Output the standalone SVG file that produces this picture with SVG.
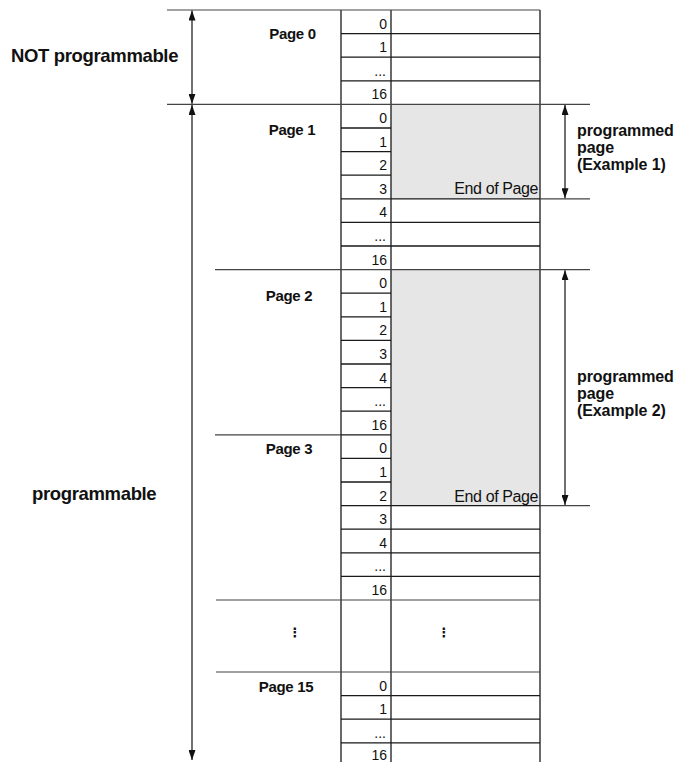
<svg xmlns="http://www.w3.org/2000/svg" width="682" height="762" viewBox="0 0 682 762">
<defs>
<style>
.t{stroke:#1a1a1a;stroke-width:1.3;fill:none}
.x{stroke:#444;stroke-width:1.2;fill:none}
.a{stroke:#111;stroke-width:1.2;fill:none}
.g{fill:#e6e6e6;stroke:none}
.n{font-family:"Liberation Sans",Arial,sans-serif;font-size:14px;fill:#111;text-anchor:end}
.p{font-family:"Liberation Sans",Arial,sans-serif;font-size:15px;font-weight:bold;fill:#111;text-anchor:middle;letter-spacing:-0.3px}
.b{font-family:"Liberation Sans",Arial,sans-serif;font-size:18.5px;font-weight:bold;fill:#111;letter-spacing:-0.35px}
.l{font-family:"Liberation Sans",Arial,sans-serif;font-size:16px;font-weight:bold;fill:#111;letter-spacing:-0.1px}
.e{font-family:"Liberation Sans",Arial,sans-serif;font-size:16px;fill:#111;text-anchor:end;letter-spacing:-0.4px}
.d{font-family:"DejaVu Sans",sans-serif;font-size:13px;font-weight:bold;fill:#111;text-anchor:middle}
</style>
<marker id="ah" viewBox="0 0 10 7" refX="10" refY="3.5" markerWidth="10" markerHeight="7" markerUnits="userSpaceOnUse" orient="auto-start-reverse">
<path d="M0,0 L10,3.5 L0,7 z" fill="#111"/>
</marker>
</defs>

<!-- shaded programmed regions -->
<g id="shade">
<rect class="g" x="391" y="104.4" width="149" height="94.4"/>
<rect class="g" x="391" y="269.6" width="149" height="236"/>
</g>

<!-- table grid -->
<g id="table">
<line class="t" x1="341" y1="10" x2="341" y2="766"/>
<line class="t" x1="391" y1="10" x2="391" y2="766"/>
<line class="t" x1="540" y1="10" x2="540" y2="766"/>
<path class="t" d="M341,33.6H391 M341,57.2H391 M341,80.8H391 M341,128H391 M341,151.6H391 M341,175.2H391 M341,293.2H391 M341,316.8H391 M341,340.4H391 M341,364H391 M341,387.6H391 M341,411.2H391 M341,434.8H391 M341,458.4H391 M341,482H391 M341,695.6H391 M341,719.2H391 M341,742.8H391"/>
<path class="t" d="M391,33.6H540 M391,57.2H540 M391,80.8H540 M341,198.8H540 M341,222.4H540 M341,246H540 M341,505.6H540 M341,529.2H540 M341,552.8H540 M341,576.4H540 M391,695.6H540 M391,719.2H540 M391,742.8H540"/>
</g>

<!-- page boundary lines -->
<g id="boundaries">
<line class="x" x1="167" y1="10" x2="540" y2="10"/>
<line class="x" x1="167" y1="104.4" x2="590" y2="104.4"/>
<line class="x" x1="540" y1="198.8" x2="590" y2="198.8"/>
<line class="x" x1="215" y1="269.6" x2="590" y2="269.6"/>
<line class="x" x1="215" y1="434.8" x2="341" y2="434.8"/>
<line class="x" x1="540" y1="505.6" x2="590" y2="505.6"/>
<line class="x" x1="216" y1="600" x2="540" y2="600"/>
<line class="x" x1="216" y1="672" x2="540" y2="672"/>
</g>

<!-- row numbers -->
<g id="numbers">
<text class="n" x="387" y="28.6">0</text>
<text class="n" x="387" y="52.2">1</text>
<text class="n" x="386" y="75.5">...</text>
<text class="n" x="387" y="99.4">16</text>
<text class="n" x="387" y="123">0</text>
<text class="n" x="387" y="146.6">1</text>
<text class="n" x="387" y="170.2">2</text>
<text class="n" x="387" y="193.8">3</text>
<text class="n" x="387" y="217.4">4</text>
<text class="n" x="386" y="240.7">...</text>
<text class="n" x="387" y="264.6">16</text>
<text class="n" x="387" y="288.2">0</text>
<text class="n" x="387" y="311.8">1</text>
<text class="n" x="387" y="335.4">2</text>
<text class="n" x="387" y="359">3</text>
<text class="n" x="387" y="382.6">4</text>
<text class="n" x="386" y="405.9">...</text>
<text class="n" x="387" y="429.8">16</text>
<text class="n" x="387" y="453.4">0</text>
<text class="n" x="387" y="477">1</text>
<text class="n" x="387" y="500.6">2</text>
<text class="n" x="387" y="524.2">3</text>
<text class="n" x="387" y="547.8">4</text>
<text class="n" x="386" y="571.1">...</text>
<text class="n" x="387" y="595">16</text>
<text class="n" x="387" y="690.6">0</text>
<text class="n" x="387" y="714.2">1</text>
<text class="n" x="386" y="737.5">...</text>
<text class="n" x="387" y="759.5">16</text>
</g>

<!-- page labels -->
<g id="page0"><text class="p" x="292.5" y="39">Page 0</text></g>
<g id="page1"><text class="p" x="292" y="135">Page 1</text></g>
<g id="page2"><text class="p" x="289" y="301">Page 2</text></g>
<g id="page3"><text class="p" x="289" y="454">Page 3</text></g>
<g id="page15"><text class="p" x="286" y="692">Page 15</text></g>

<!-- ellipsis markers in gap -->
<g id="gap">
<text class="d" x="295" y="637">⋮</text>
<text class="d" x="444" y="637">⋮</text>
</g>

<!-- end of page labels -->
<g id="eop1"><text class="e" x="538" y="194">End of Page</text></g>
<g id="eop2"><text class="e" x="538" y="502">End of Page</text></g>

<!-- side labels -->
<g id="notprog"><text class="b" x="11" y="62">NOT programmable</text></g>
<g id="prog"><text class="b" x="32" y="500">programmable</text></g>
<g id="ex1">
<text class="l" x="577" y="136">programmed</text>
<text class="l" x="577" y="153">page</text>
<text class="l" x="577" y="170">(Example 1)</text>
</g>
<g id="ex2">
<text class="l" x="577" y="382">programmed</text>
<text class="l" x="577" y="399">page</text>
<text class="l" x="577" y="416">(Example 2)</text>
</g>

<!-- connectors: dimension arrows -->
<g id="connectors">
<line class="a" x1="192" y1="10.5" x2="192" y2="103.8" marker-start="url(#ah)" marker-end="url(#ah)"/>
<line class="a" x1="192" y1="105" x2="192" y2="760" marker-start="url(#ah)" marker-end="url(#ah)"/>
<line class="a" x1="565" y1="105" x2="565" y2="198.2" marker-start="url(#ah)" marker-end="url(#ah)"/>
<line class="a" x1="565" y1="270.2" x2="565" y2="505" marker-start="url(#ah)" marker-end="url(#ah)"/>
</g>
</svg>
